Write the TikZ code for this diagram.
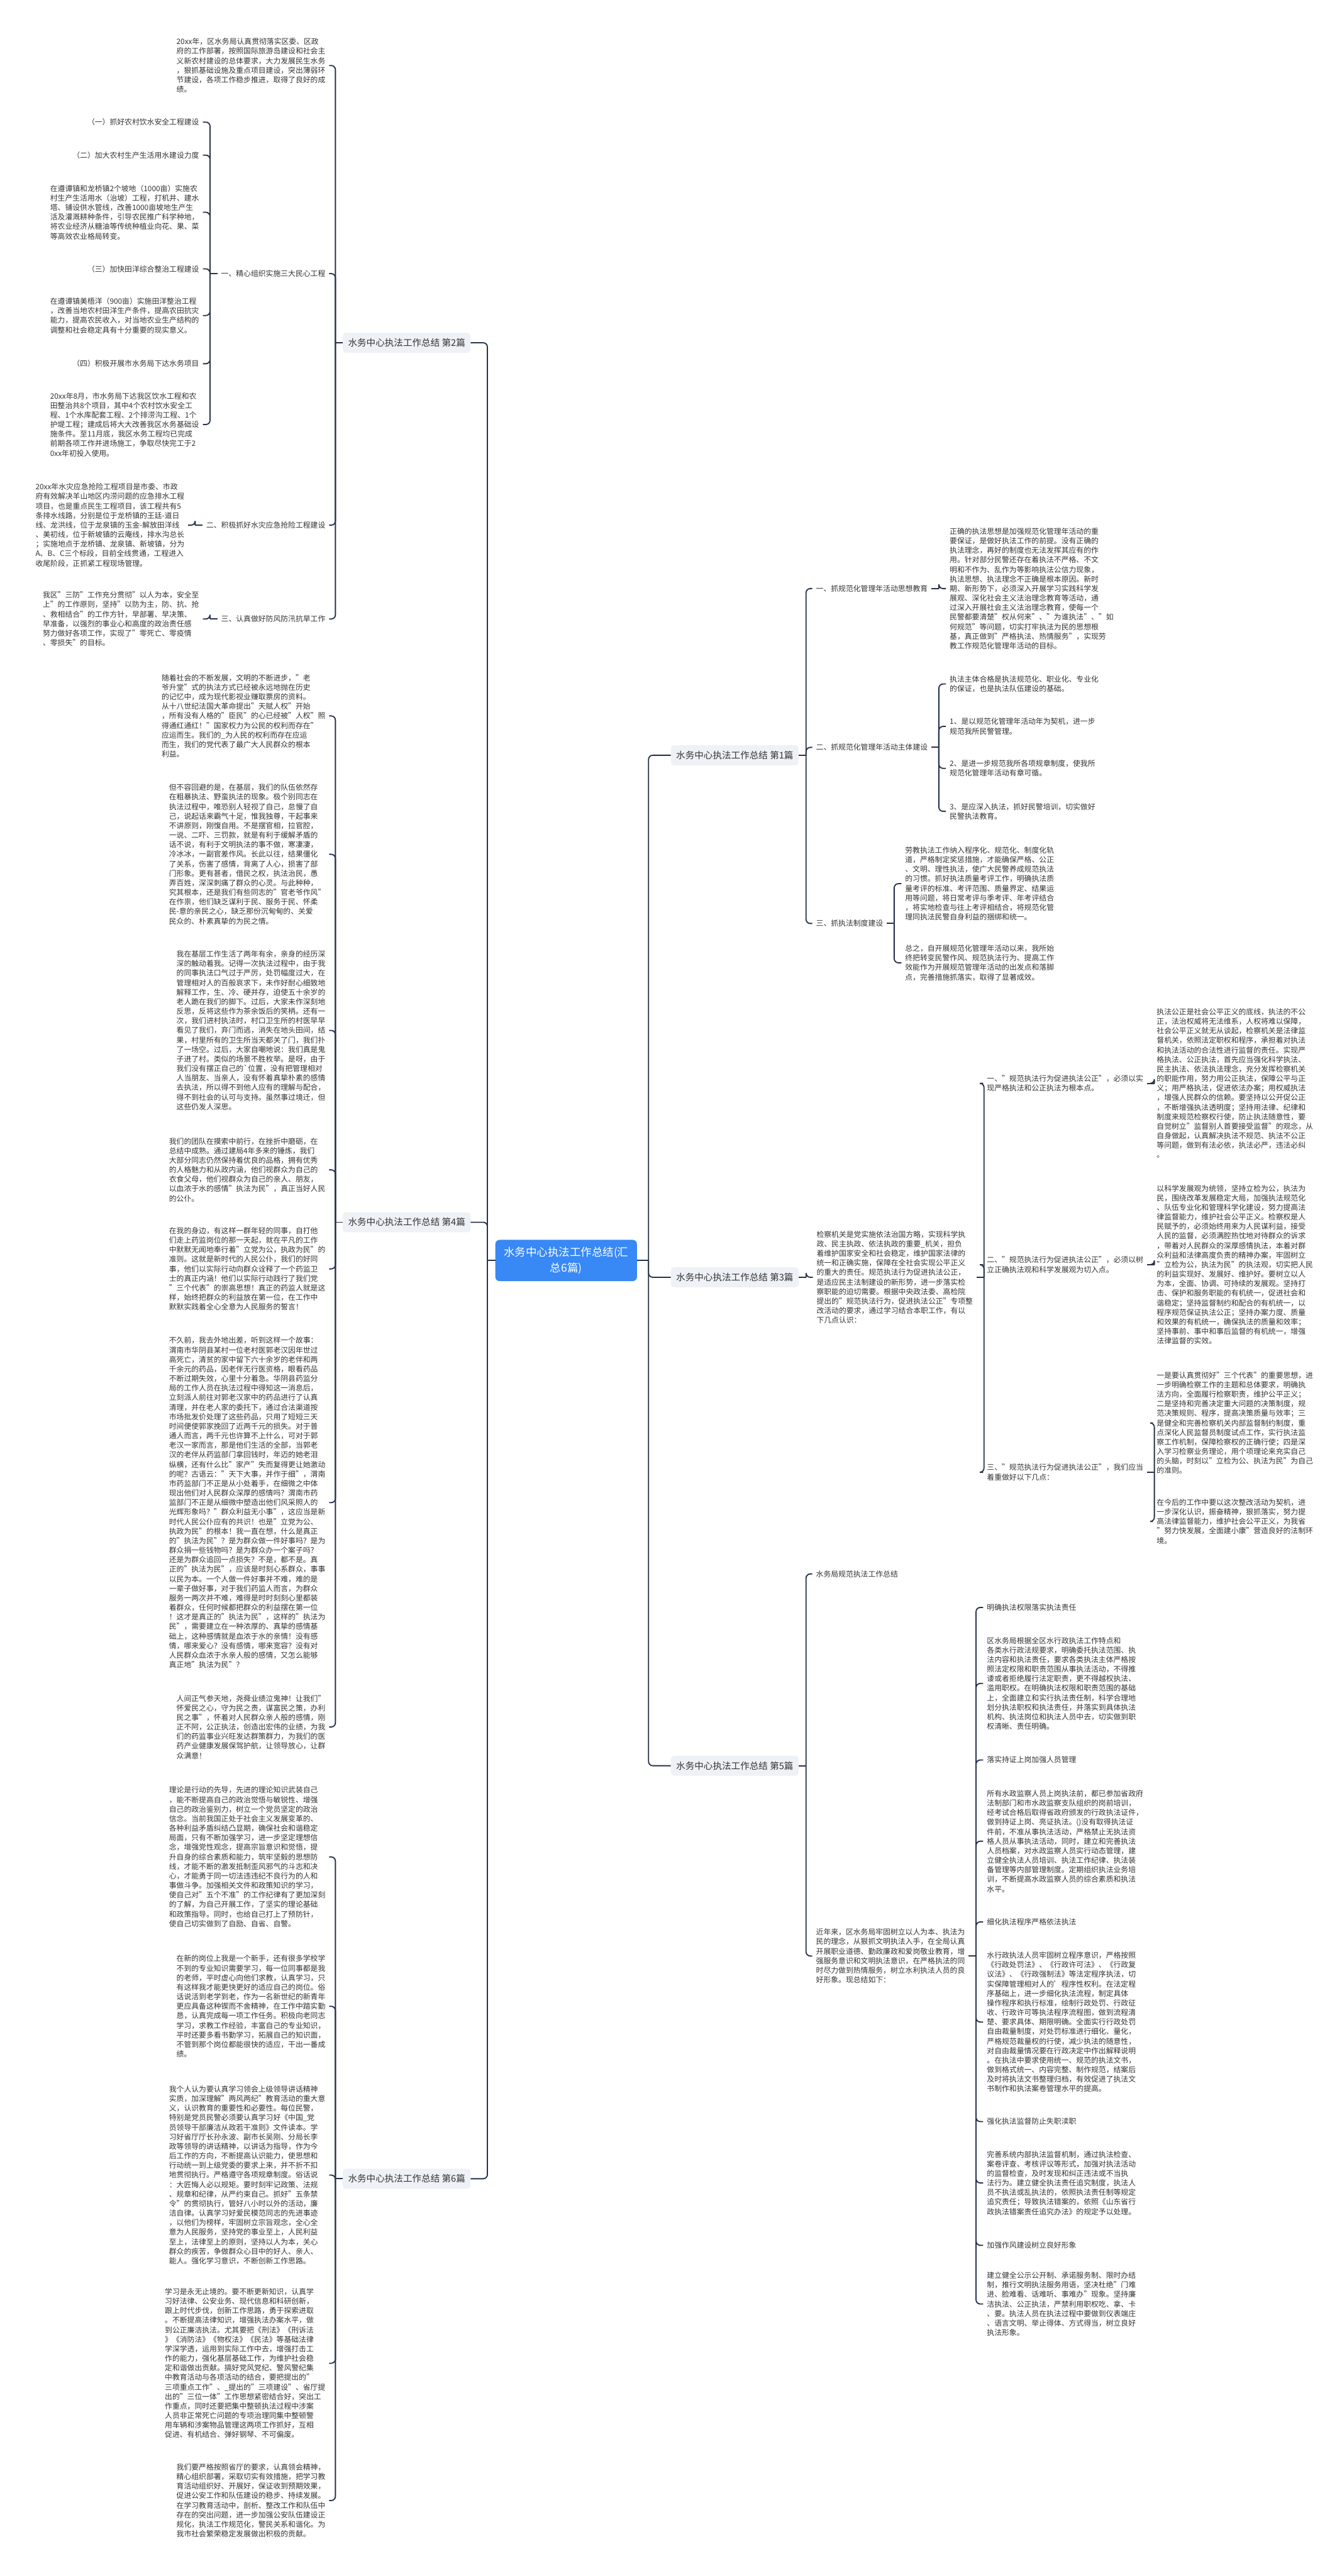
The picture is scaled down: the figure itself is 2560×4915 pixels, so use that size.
\documentclass[tikz,border=0pt]{standalone}
\usepackage{fontspec}
\setmainfont{Noto Sans CJK SC}
\usetikzlibrary{positioning, calc}
\definecolor{rootblue}{RGB}{56,136,245}
\definecolor{sheetgray}{RGB}{238,241,246}
\definecolor{inkgray}{RGB}{51,51,51}
\definecolor{linknavy}{RGB}{38,50,76}

\tikzset{
  root/.style={fill=rootblue, text=white, rounded corners=8pt, align=center,
    font=\fontsize{21}{29}\selectfont, inner xsep=16pt, inner ysep=14pt},
  sheet/.style={fill=sheetgray, text=inkgray, rounded corners=6pt,
    font=\fontsize{17.5}{22}\selectfont, inner xsep=10pt, inner ysep=11pt},
  memo/.style={text=inkgray, align=left, font=\fontsize{14.2}{18.2}\selectfont,
    inner xsep=7pt, inner ysep=2pt},
  link/.style={draw=linknavy, line width=2.2pt},
}

% connectors: parent -> child, bracket at a short stub from the parent
\newcommand{\toright}[3][14]{%
  \draw[link] (#2.east) -- ++(#1pt,0);
  \draw[link, rounded corners=8pt] ([xshift=#1pt]#2.east) |- (#3.west);}
\newcommand{\toleft}[3][14]{%
  \draw[link] (#2.west) -- ++(-#1pt,0);
  \draw[link, rounded corners=8pt] ([xshift=-#1pt]#2.west) |- (#3.east);}

\begin{document}
\begin{tikzpicture}[x=1pt, y=-1pt]
\fill[white] (0,0) rectangle (2560,4915);
\useasboundingbox (0,0) rectangle (2560,4915);

\node[root, anchor=west] (root) at (945,2405) {水务中心执法工作总结(汇\\总6篇)};

% ---------------- left: 第2篇
\node[sheet, anchor=west] (p2) at (654,654) {水务中心执法工作总结 第2篇};
\node[memo, anchor=east] (b2t) at (628,125) {20xx年，区水务局认真贯彻落实区委、区政\\府的工作部署，按照国际旅游岛建设和社会主\\义新农村建设的总体要求，大力发展民生水务\\，狠抓基础设施及重点项目建设，突出薄弱环\\节建设，各项工作稳步推进，取得了良好的成\\绩。};
\node[memo, anchor=east] (b2a) at (628,522) {一、精心组织实施三大民心工程};
\node[memo, anchor=east] (b2a1) at (387,233) {（一）抓好农村饮水安全工程建设};
\node[memo, anchor=east] (b2a2) at (387,296) {（二）加大农村生产生活用水建设力度};
\node[memo, anchor=east] (b2a3) at (387,405) {在遵谭镇和龙桥镇2个坡地（1000亩）实施农\\村生产生活用水（治坡）工程，打机井、建水\\塔、铺设供水管线，改善1000亩坡地生产生\\活及灌溉耕种条件，引导农民推广科学种地，\\将农业经济从糖油等传统种植业向花、果、菜\\等高效农业格局转变。};
\node[memo, anchor=east] (b2a4) at (387,513) {（三）加快田洋综合整治工程建设};
\node[memo, anchor=east] (b2a5) at (387,602) {在遵谭镇美梧洋（900亩）实施田洋整治工程\\，改善当地农村田洋生产条件，提高农田抗灾\\能力，提高农民收入，对当地农业生产结构的\\调整和社会稳定具有十分重要的现实意义。};
\node[memo, anchor=east] (b2a6) at (387,694) {（四）积极开展市水务局下达水务项目};
\node[memo, anchor=east] (b2a7) at (387,810) {20xx年8月，市水务局下达我区饮水工程和农\\田整治共8个项目，其中4个农村饮水安全工\\程、1个水库配套工程、2个排涝沟工程、1个\\护堤工程；建成后将大大改善我区水务基础设\\施条件。至11月底，我区水务工程均已完成\\前期各项工作并进场施工，争取尽快完工于2\\0xx年初投入使用。};
\node[memo, anchor=east] (b2b) at (628,1002) {二、积极抓好水灾应急抢险工程建设};
\node[memo, anchor=east] (b2bt) at (359,1002) {20xx年水灾应急抢险工程项目是市委、市政\\府有效解决羊山地区内涝问题的应急排水工程\\项目，也是重点民生工程项目，该工程共有5\\条排水线路，分别是位于龙桥镇的王廷-道日\\线、龙洪线，位于龙泉镇的玉金-解放田洋线\\、美初线，位于新坡镇的云庵线，排水沟总长\\；实施地点于龙桥镇、龙泉镇、新坡镇，分为\\A、B、C三个标段，目前全线贯通，工程进入\\收尾阶段，正抓紧工程现场管理。};
\node[memo, anchor=east] (b2c) at (628,1181) {三、认真做好防风防汛抗旱工作};
\node[memo, anchor=east] (b2ct) at (387,1181) {我区"三防"工作充分贯彻"以人为本，安全至\\上"的工作原则，坚持"以防为主，防、抗、抢\\、救相结合"的工作方针，早部署、早决策、\\早准备，以强烈的事业心和高度的政治责任感\\努力做好各项工作，实现了"零死亡、零疫情\\、零损失"的目标。};

% ---------------- left: 第4篇
\node[sheet, anchor=west] (p4) at (654,2332) {水务中心执法工作总结 第4篇};
\node[memo, anchor=east] (b4t1) at (628,1366) {随着社会的不断发展，文明的不断进步，"老\\爷升堂"式的执法方式已经被永远地抛在历史\\的记忆中，成为现代影视业赚取票房的资料。\\从十八世纪法国大革命提出"天赋人权"开始\\，所有没有人格的"臣民"的心已经被"人权"照\\得通红通红！"国家权力为公民的权利而存在"\\应运而生。我们的\_为人民的权利而存在应运\\而生，我们的党代表了最广大人民群众的根本\\利益。};
\node[memo, anchor=east] (b4t2) at (628,1630) {但不容回避的是，在基层，我们的队伍依然存\\在粗暴执法、野蛮执法的现象。极个别同志在\\执法过程中，唯恐别人轻视了自己，怠慢了自\\己，说起话来霸气十足，惟我独尊，干起事来\\不讲原则，刚愎自用。不是摆官相，拉官腔，\\一说、二吓、三罚款，就是有利于缓解矛盾的\\话不说，有利于文明执法的事不做，寒凄凄，\\冷冰冰，一副官差作风。长此以往，结果僵化\\了关系，伤害了感情，背离了人心，损害了部\\门形象。更有甚者，借民之权，执法治民，愚\\弄百姓，深深刺痛了群众的心灵。与此种种，\\究其根本，还是我们有些同志的"官老爷作风"\\在作祟，他们缺乏谋利于民、服务于民、怀柔\\民-意的亲民之心，缺乏那份沉甸甸的、关爱\\民众的、朴素真挚的为民之情。};
\node[memo, anchor=east] (b4t3) at (628,1966) {我在基层工作生活了两年有余，亲身的经历深\\深的触动着我。记得一次执法过程中，由于我\\的同事执法口气过于严厉，处罚幅度过大，在\\管理相对人的百般哀求下，未作好耐心细致地\\解释工作，生、冷、硬并存，迫使五十余岁的\\老人跪在我们的脚下。过后，大家未作深刻地\\反思，反将这些作为茶余饭后的笑柄。还有一\\次，我们进村执法时，村口卫生所的村医早早\\看见了我们，弃门而逃，消失在地头田间，结\\果，村里所有的卫生所当天都关了门，我们扑\\了一场空。过后，大家自嘲地说：我们真是鬼\\子进了村。类似的场景不胜枚举。是呀，由于\\我们没有摆正自己的\textasciigrave 位置，没有把管理相对\\人当朋友、当亲人，没有怀着真挚朴素的感情\\去执法，所以得不到他人应有的理解与配合，\\得不到社会的认可与支持。虽然事过境迁，但\\这些仍发人深思。};
\node[memo, anchor=east] (b4t4) at (628,2232) {我们的团队在摸索中前行，在挫折中磨砺，在\\总结中成熟。通过建局4年多来的锤炼，我们\\大部分同志仍然保持着优良的品格，拥有优秀\\的人格魅力和从政内涵，他们视群众为自己的\\衣食父母，他们视群众为自己的亲人、朋友，\\以血浓于水的感情"执法为民"，真正当好人民\\的公仆。};
\node[memo, anchor=east] (b4t5) at (628,2421) {在我的身边，有这样一群年轻的同事，自打他\\们走上药监岗位的那一天起，就在平凡的工作\\中默默无闻地奉行着"立党为公，执政为民"的\\准则。这就是新时代的人民公仆，我们的好同\\事，他们以实际行动向群众诠释了一个药监卫\\士的真正内涵！他们以实际行动践行了我们党\\"三个代表"的崇高思想！真正的药监人就是这\\样，始终把群众的利益放在第一位，在工作中\\默默实践着全心全意为人民服务的誓言！};
\node[memo, anchor=east] (b4t6) at (628,2867) {不久前，我去外地出差，听到这样一个故事：\\渭南市华阴县某村一位老村医郭老汉因年世过\\高死亡，清贫的家中留下六十余岁的老伴和两\\千余元的药品，因老伴无行医资格，眼看药品\\不断过期失效，心里十分着急。华阴县药监分\\局的工作人员在执法过程中得知这一消息后，\\立刻派人前往对郭老汉家中的药品进行了认真\\清理，并在老人家的委托下，通过合法渠道按\\市场批发价处理了这些药品，只用了短短三天\\时间便使郭家挽回了近两千元的损失。对于普\\通人而言，两千元也许算不上什么，可对于郭\\老汉一家而言，那是他们生活的全部，当郭老\\汉的老伴从药监部门拿回钱时，年迈的她老泪\\纵横，还有什么比"家产"失而复得更让她激动\\的呢？古语云："天下大事，并作于细"，渭南\\市药监部门不正是从小处着手，在细微之中体\\现出他们对人民群众深厚的感情吗？渭南市药\\监部门不正是从细微中塑造出他们风采照人的\\光辉形象吗？"群众利益无小事"，这应当是新\\时代人民公仆应有的共识！也是"立党为公、\\执政为民"的根本！我一直在想，什么是真正\\的"执法为民"？是为群众做一件好事吗？是为\\群众捐一些钱物吗？是为群众办一个案子吗？\\还是为群众追回一点损失？不是，都不是。真\\正的"执法为民"，应该是时刻心系群众，事事\\以民为本。一个人做一件好事并不难，难的是\\一辈子做好事，对于我们药监人而言，为群众\\服务一两次并不难，难得是时时刻刻心里都装\\着群众，任何时候都把群众的利益摆在第一位\\！这才是真正的"执法为民"，这样的"执法为\\民"，需要建立在一种浓厚的、真挚的感情基\\础上，这种感情就是血浓于水的亲情！没有感\\情，哪来爱心？没有感情，哪来宽容？没有对\\人民群众血浓于水亲人般的感情，又怎么能够\\真正地"执法为民"？};
\node[memo, anchor=east] (b4t7) at (628,3295) {人间正气参天地，尧舜业绩泣鬼神！让我们"\\怀爱民之心，守为民之责，谋富民之策，办利\\民之事"，怀着对人民群众亲人般的感情，刚\\正不阿，公正执法，创造出宏伟的业绩，为我\\们的药监事业兴旺发达群策群力，为我们的医\\药产业健康发展保驾护航，让领导放心，让群\\众满意！};

% ---------------- left: 第6篇
\node[sheet, anchor=west] (p6) at (654,4157) {水务中心执法工作总结 第6篇};
\node[memo, anchor=east] (b6t1) at (628,3543) {理论是行动的先导，先进的理论知识武装自己\\，能不断提高自己的政治觉悟与敏锐性、增强\\自己的政治鉴别力，树立一个党员坚定的政治\\信念。当前我国正处于社会主义发展变革的、\\各种利益矛盾纠结凸显期，确保社会和谐稳定\\局面，只有不断加强学习，进一步坚定理想信\\念，增强党性观念，提高宗旨意识和觉悟，提\\升自身的综合素质和能力，筑牢坚毅的思想防\\线，才能不断的激发抵制歪风邪气的斗志和决\\心，才能勇于同一切法违违纪不良行为的人和\\事做斗争。加强相关文件和政策知识的学习，\\使自己对"五个不准"的工作纪律有了更加深刻\\的了解，为自己开展工作，了坚实的理论基础\\和政策指导。同时，也给自己打上了预防针，\\使自己切实做到了自励、自省、自警。};
\node[memo, anchor=east] (b6t2) at (628,3828) {在新的岗位上我是一个新手，还有很多学校学\\不到的专业知识需要学习，每一位同事都是我\\的老师，平时虚心向他们求教，认真学习，只\\有这样我才能更快更好的适应自己的岗位。俗\\话说活到老学到老，作为一名新世纪的新青年\\更应具备这种锲而不舍精神，在工作中踏实勤\\恳，认真完成每一项工作任务。积极向老同志\\学习，求教工作经验，丰富自己的专业知识，\\平时还要多看书勤学习，拓展自己的知识面，\\不管到那个岗位都能很快的适应，干出一番成\\绩。};
\node[memo, anchor=east] (b6t3) at (628,4150) {我个人认为要认真学习领会上级领导讲话精神\\实质，加深理解"两风两纪"教育活动的重大意\\义，认识教育的重要性和必要性。每位民警，\\特别是党员民警必须要认真学习好《中国\_党\\员领导干部廉洁从政若干准则》文件读本。学\\习好省厅厅长孙永波、副市长吴刚、分局长李\\政等领导的讲话精神，以讲话为指导，作为今\\后工作的方向，不断提高认识能力，使思想和\\行动统一到上级党委的要求上来，并不折不扣\\地贯彻执行。严格遵守各项规章制度。俗话说\\：大匠悔人必以规矩。要时刻牢记政策、法规\\、规章和纪律，从严约束自己。抓好"五条禁\\令"的贯彻执行，管好八小时以外的活动，廉\\洁自律。认真学习好爱民模范同志的先进事迹\\，以他们为榜样，牢固树立宗旨观念，全心全\\意为人民服务，坚持党的事业至上，人民利益\\至上，法律至上的原则，坚持以人为本，关心\\群众的疾苦，争做群众心目中的好人、亲人、\\能人。强化学习意识，不断创新工作思路。};
\node[memo, anchor=east] (b6t4) at (628,4509) {学习是永无止境的。要不断更新知识，认真学\\习好法律、公安业务、现代信息和科研创新，\\跟上时代步伐，创新工作思路，勇于探索进取\\。不断提高法律知识，增强执法办案水平，做\\到公正廉洁执法。尤其要把《刑法》《刑诉法\\》《消防法》《物权法》《民法》等基础法律\\学深学透，运用到实际工作中去，增强打击工\\作的能力，强化基层基础工作，为维护社会稳\\定和谐做出贡献。搞好党风党纪、警风警纪集\\中教育活动与各项活动的结合，要把提出的"\\三项重点工作"、\_提出的"三项建设"、省厅提\\出的"三位一体"工作思想紧密结合好，突出工\\作重点，同时还要把集中整顿执法过程中涉案\\人员非正常死亡问题的专项治理同集中整顿警\\用车辆和涉案物品管理这两项工作抓好，互相\\促进、有机结合、弹好钢琴、不可偏废。};
\node[memo, anchor=east] (b6t5) at (628,4771) {我们要严格按照省厅的要求，认真领会精神，\\精心组织部署，采取切实有效措施，把学习教\\育活动组织好、开展好，保证收到预期效果，\\促进公安工作和队伍建设的稳步、持续发展。\\在学习教育活动中，剖析、整改工作和队伍中\\存在的突出问题，进一步加强公安队伍建设正\\规化，执法工作规范化，警民关系和谐化。为\\我市社会繁荣稳定发展做出积极的贡献。};

% ---------------- right: 第1篇
\node[sheet, anchor=east] (p1) at (1524,1441) {水务中心执法工作总结 第1篇};
\node[memo, anchor=west] (b1a) at (1550,1123) {一、抓规范化管理年活动思想教育};
\node[memo, anchor=west] (b1at) at (1805,1123) {正确的执法思想是加强规范化管理年活动的重\\要保证，是做好执法工作的前提。没有正确的\\执法理念，再好的制度也无法发挥其应有的作\\用。针对部分民警还存在着执法不严格、不文\\明和不作为、乱作为等影响执法公信力现象，\\执法思想、执法理念不正确是根本原因。新时\\期、新形势下，必须深入开展学习实践科学发\\展观、深化社会主义法治理念教育等活动，通\\过深入开展社会主义法治理念教育，使每一个\\民警都要清楚"权从何来"、"为谁执法"、"如\\何规范"等问题，切实打牢执法为民的思想根\\基，真正做到"严格执法、热情服务"，实现劳\\教工作规范化管理年活动的目标。};
\node[memo, anchor=west] (b1b) at (1550,1426) {二、抓规范化管理年活动主体建设};
\node[memo, anchor=west] (b1b1) at (1805,1305) {执法主体合格是执法规范化、职业化、专业化\\的保证，也是执法队伍建设的基础。};
\node[memo, anchor=west] (b1b2) at (1805,1386) {1、是以规范化管理年活动年为契机，进一步\\规范我所民警管理。};
\node[memo, anchor=west] (b1b3) at (1805,1466) {2、是进一步规范我所各项规章制度，使我所\\规范化管理年活动有章可循。};
\node[memo, anchor=west] (b1b4) at (1805,1548) {3、是应深入执法，抓好民警培训，切实做好\\民警执法教育。};
\node[memo, anchor=west] (b1c) at (1550,1762) {三、抓执法制度建设};
\node[memo, anchor=west] (b1c1) at (1720,1686) {劳教执法工作纳入程序化、规范化、制度化轨\\道，严格制定奖惩措施，才能确保严格、公正\\、文明、理性执法，使广大民警养成规范执法\\的习惯。抓好执法质量考评工作，明确执法质\\量考评的标准、考评范围、质量界定、结果运\\用等问题，将日常考评与季考评、年考评结合\\，将实地检查与往上考评相结合，将规范化管\\理同执法民警自身利益的捆绑和统一。};
\node[memo, anchor=west] (b1c2) at (1720,1837) {总之，自开展规范化管理年活动以来，我所始\\终把转变民警作风、规范执法行为、提高工作\\效能作为开展规范管理年活动的出发点和落脚\\点，完善措施抓落实，取得了显著成效。};

% ---------------- right: 第3篇
\node[sheet, anchor=east] (p3) at (1524,2437) {水务中心执法工作总结 第3篇};
\node[memo, anchor=west] (b3t) at (1551,2437) {检察机关是党实施依法治国方略，实现科学执\\政、民主执政、依法执政的重要\_机关，担负\\着维护国家安全和社会稳定，维护国家法律的\\统一和正确实施，保障在全社会实现公平正义\\的重大的责任。规范执法行为促进执法公正，\\是适应民主法制建设的新形势，进一步落实检\\察职能的迫切需要。根据中央政法委、高检院\\提出的"规范执法行为，促进执法公正"专项整\\改活动的要求，通过学习结合本职工作，有以\\下几点认识：};
\node[memo, anchor=west] (b3a) at (1876,2067) {一、"规范执法行为促进执法公正"，必须以实\\现严格执法和公正执法为根本点。};
\node[memo, anchor=west] (b3at) at (2200,2067) {执法公正是社会公平正义的底线，执法的不公\\正，法治权威将无法维系，人权将难以保障，\\社会公平正义就无从谈起，检察机关是法律监\\督机关，依照法定职权和程序，承担着对执法\\和执法活动的合法性进行监督的责任。实现严\\格执法、公正执法，首先应当强化科学执法、\\民主执法、依法执法理念，充分发挥检察机关\\的职能作用，努力用公正执法，保障公平与正\\义；用严格执法，促进依法办案；用权威执法\\，增强人民群众的信赖。要坚持以公开促公正\\，不断增强执法透明度；坚持用法律、纪律和\\制度来规范检察权行使，防止执法随意性，要\\自觉树立"监督别人首要接受监督"的观念，从\\自身做起，认真解决执法不规范、执法不公正\\等问题，做到有法必依，执法必严，违法必纠\\。};
\node[memo, anchor=west] (b3b) at (1876,2413) {二、"规范执法行为促进执法公正"，必须以树\\立正确执法观和科学发展观为切入点。};
\node[memo, anchor=west] (b3bt) at (2200,2413) {以科学发展观为统领，坚持立检为公，执法为\\民，围绕改革发展稳定大局，加强执法规范化\\、队伍专业化和管理科学化建设，努力提高法\\律监督能力，维护社会公平正义。检察权是人\\民赋予的，必须始终用来为人民谋利益，接受\\人民的监督，必须满腔热忱地对待群众的诉求\\，带着对人民群众的深厚感情执法，本着对群\\众利益和法律高度负责的精神办案，牢固树立\\"立检为公，执法为民"的执法观，切实把人民\\的利益实现好、发展好、维护好。要树立以人\\为本，全面、协调、可持续的发展观。坚持打\\击、保护和服务职能的有机统一，促进社会和\\谐稳定；坚持监督制约和配合的有机统一，以\\程序规范保证执法公正；坚持办案力度、质量\\和效果的有机统一，确保执法的质量和效率；\\坚持事前、事中和事后监督的有机统一，增强\\法律监督的实效。};
\node[memo, anchor=west] (b3c) at (1876,2809) {三、"规范执法行为促进执法公正"，我们应当\\着重做好以下几点：};
\node[memo, anchor=west] (b3c1) at (2200,2715) {一是要认真贯彻好"三个代表"的重要思想，进\\一步明确检察工作的主题和总体要求，明确执\\法方向，全面履行检察职责，维护公平正义；\\二是坚持和完善决定重大问题的决策制度，规\\范决策规则、程序，提高决策质量与效率；三\\是健全和完善检察机关内部监督制约制度，重\\点深化人民监督员制度试点工作，实行执法监\\察工作机制，保障检察权的正确行使；四是深\\入学习检察业务理论，用个项理论来充实自己\\的头脑，时刻以"立检为公、执法为民"为自己\\的准则。};
\node[memo, anchor=west] (b3c2) at (2200,2903) {在今后的工作中要以这次整改活动为契机，进\\一步深化认识，振奋精神，狠抓落实，努力提\\高法律监督能力，维护社会公平正义，为我省\\"努力快发展，全面建小康"营造良好的法制环\\境。};

% ---------------- right: 第5篇
\node[sheet, anchor=east] (p5) at (1524,3369) {水务中心执法工作总结 第5篇};
\node[memo, anchor=west] (b5a) at (1550,3003) {水务局规范执法工作总结};
\node[memo, anchor=west] (b5t) at (1550,3732) {近年来，区水务局牢固树立以人为本、执法为\\民的理念，从狠抓文明执法入手，在全局认真\\开展职业道德、勤政廉政和爱岗敬业教育，增\\强服务意识和文明执法意识，在严格执法的同\\时尽力做到热情服务，树立水利执法人员的良\\好形象。现总结如下：};
\node[memo, anchor=west] (b5k1) at (1876,3067) {明确执法权限落实执法责任};
\node[memo, anchor=west] (b5k2) at (1876,3212) {区水务局根据全区水行政执法工作特点和\\各类水行政法规要求，明确委托执法范围、执\\法内容和执法责任，要求各类执法主体严格按\\照法定权限和职责范围从事执法活动，不得推\\诿或者拒绝履行法定职责，更不得越权执法、\\滥用职权。在明确执法权限和职责范围的基础\\上，全面建立和实行执法责任制，科学合理地\\划分执法职权和执法责任，并落实到具体执法\\机构、执法岗位和执法人员中去，切实做到职\\权清晰、责任明确。};
\node[memo, anchor=west] (b5k3) at (1876,3358) {落实持证上岗加强人员管理};
\node[memo, anchor=west] (b5k4) at (1876,3513) {所有水政监察人员上岗执法前，都已参加省政府\\法制部门和市水政监察支队组织的岗前培训，\\经考试合格后取得省政府颁发的行政执法证件，\\做到持证上岗、亮证执法。()没有取得执法证\\件前，不准从事执法活动，严格禁止无执法资\\格人员从事执法活动，同时，建立和完善执法\\人员档案，对水政监察人员实行动态管理，建\\立健全执法人员培训、执法工作纪律、执法装\\备管理等内部管理制度。定期组织执法业务培\\训，不断提高水政监察人员的综合素质和执法\\水平。};
\node[memo, anchor=west] (b5k5) at (1876,3667) {细化执法程序严格依法执法};
\node[memo, anchor=west] (b5k6) at (1876,3858) {水行政执法人员牢固树立程序意识，严格按照\\《行政处罚法》、《行政许可法》、《行政复\\议法》、《行政强制法》等法定程序执法，切\\实保障管理相对人的'程序性权利。在法定程\\序基础上，进一步细化执法流程，制定具体\\操作程序和执行标准，绘制行政处罚、行政征\\收、行政许可等执法程序流程图，做到流程清\\楚、要求具体、期限明确。全面实行行政处罚\\自由裁量制度，对处罚标准进行细化、量化，\\严格规范裁量权的行使，减少执法的随意性，\\对自由裁量情况要在行政决定中作出解释说明\\。在执法中要求使用统一、规范的执法文书，\\做到格式统一、内容完整、制作规范，结案后\\及时将执法文书整理归档，有效促进了执法文\\书制作和执法案卷管理水平的提高。};
\node[memo, anchor=west] (b5k7) at (1876,4048) {强化执法监督防止失职渎职};
\node[memo, anchor=west] (b5k8) at (1876,4165) {完善系统内部执法监督机制，通过执法检查、\\案卷评查、考核评议等形式，加强对执法活动\\的监督检查，及时发现和纠正违法或不当执\\法行为。建立健全执法责任追究制度，执法人\\员不执法或乱执法的，依照执法责任制等规定\\追究责任；导致执法错案的，依照《山东省行\\政执法错案责任追究办法》的规定予以处理。};
\node[memo, anchor=west] (b5k9) at (1876,4284) {加强作风建设树立良好形象};
\node[memo, anchor=west] (b5k10) at (1876,4396) {建立健全公示公开制、承诺服务制、限时办结\\制，推行文明执法服务用语，坚决杜绝"门难\\进、脸难看、话难听、事难办"现象。坚持廉\\洁执法、公正执法，严禁利用职权吃、拿、卡\\、要。执法人员在执法过程中要做到仪表端庄\\、语言文明、举止得体、方式得当，树立良好\\执法形象。};

% ---------------- connectors
\foreach \p in {p2,p4,p6} {\toleft[15]{root}{\p}}
\foreach \p in {p1,p3,p5} {\toright[22]{root}{\p}}

\foreach \c in {b2t,b2a,b2b,b2c} {\toleft{p2}{\c}}
\foreach \c in {b2a1,b2a2,b2a3,b2a4,b2a5,b2a6,b2a7} {\toleft{b2a}{\c}}
\toleft{b2b}{b2bt}
\toleft{b2c}{b2ct}
\foreach \c in {b4t1,b4t2,b4t3,b4t4,b4t5,b4t6,b4t7} {\toleft{p4}{\c}}
\foreach \c in {b6t1,b6t2,b6t3,b6t4,b6t5} {\toleft{p6}{\c}}

\foreach \c in {b1a,b1b,b1c} {\toright{p1}{\c}}
\toright{b1a}{b1at}
\foreach \c in {b1b1,b1b2,b1b3,b1b4} {\toright{b1b}{\c}}
\foreach \c in {b1c1,b1c2} {\toright{b1c}{\c}}
\toright{p3}{b3t}
\foreach \c in {b3a,b3b,b3c} {\toright{b3t}{\c}}
\toright{b3a}{b3at}
\toright{b3b}{b3bt}
\foreach \c in {b3c1,b3c2} {\toright{b3c}{\c}}
\foreach \c in {b5a,b5t} {\toright{p5}{\c}}
\foreach \c in {b5k1,b5k2,b5k3,b5k4,b5k5,b5k6,b5k7,b5k8,b5k9,b5k10} {\toright{b5t}{\c}}
\end{tikzpicture}
\end{document}
